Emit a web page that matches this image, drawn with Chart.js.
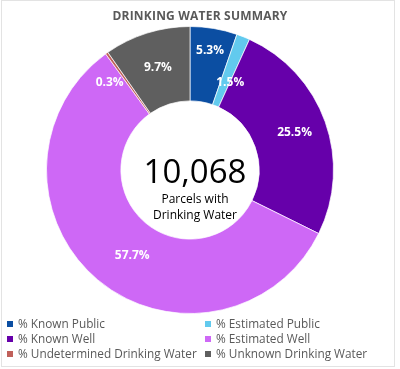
<!DOCTYPE html>
<html>
<head>
<meta charset="utf-8">
<script src="https://cdn.jsdelivr.net/npm/chart.js@4"></script>
<style>
  body { margin: 0; background: #fff; }
  #wrap { position: relative; width: 400px; height: 369px; font-family: "Open Sans", sans-serif; }
  #frame { position: absolute; left: 1px; top: 0; width: 394px; height: 367px; border: 1px solid #e3e3e3; box-sizing: border-box; }
  #title { position: absolute; left: 0; width: 400px; top: 7px; text-align: center; font-weight: bold; font-size: 12px; letter-spacing: 0.2px; color: #595959; }
  #center { position: absolute; left: 125px; width: 140px; top: 151px; text-align: center; color: #000; }
  #center .big { font-size: 33px; line-height: 40px; }
  #center .small { font-size: 12px; line-height: 16px; }
  #legend { position: absolute; left: 7px; top: 316px; width: 390px; }
  .item { position: absolute; font-size: 11.8px; color: #595959; white-space: nowrap; line-height: 15px; }
  .item i { display: inline-block; width: 6px; height: 6px; margin-right: 5px; vertical-align: 1px; }
  canvas { position: absolute; left: 0; top: 0; }
</style>
</head>
<body>
<div id="wrap">
  <canvas id="chart" width="400" height="369"></canvas>
  <div id="frame"></div>
  <div id="title">DRINKING WATER SUMMARY</div>
  <div id="center"><div class="big">10,068</div><div class="small">Parcels with<br>Drinking Water</div></div>
  <div id="legend"></div>
</div>
<script>
const labels = ["% Known Public", "% Estimated Public", "% Known Well", "% Estimated Well", "% Undetermined Drinking Water", "% Unknown Drinking Water"];
const values = [5.3, 1.5, 25.5, 57.7, 0.3, 9.7];
const colors = ["#0B4EA2", "#62CAEE", "#6600AA", "#CE68F6", "#C0605A", "#5F5F5F"];

// label placement: radius in px, angle nudge in degrees
const labelRadius = [121, 96, 111, 103, 119, 107];
const labelNudge = [0, 3, 0, -6, -7, 0];

const pctLabels = {
    id: "pctLabels",
    afterDatasetsDraw(chart) {
        const { ctx } = chart;
        const meta = chart.getDatasetMeta(0);
        ctx.save();
        ctx.fillStyle = "#fff";
        ctx.font = "bold 12px 'Open Sans'";
        ctx.textAlign = "center";
        ctx.textBaseline = "middle";
        meta.data.forEach((arc, i) => {
            const p = arc.getProps(["x", "y", "startAngle", "endAngle"], true);
            const a = (p.startAngle + p.endAngle) / 2 + labelNudge[i] * Math.PI / 180;
            const r = labelRadius[i];
            ctx.fillText(values[i].toFixed(1) + "%", p.x + Math.cos(a) * r, p.y + Math.sin(a) * r);
        });
        ctx.restore();
    }
};

new Chart(document.getElementById("chart"), {
    type: "doughnut",
    data: {
        labels,
        datasets: [{
            data: values,
            backgroundColor: colors,
            borderColor: "rgba(255,255,255,0.7)",
            borderWidth: 1
        }]
    },
    options: {
        responsive: false,
        animation: false,
        radius: 143.5,
        cutout: 72,
        layout: { padding: { left: 40, right: 60, top: 20, bottom: 49 } },
        plugins: {
            legend: { display: false },
            tooltip: { enabled: false }
        }
    },
    plugins: [pctLabels]
});

// legend, two columns
const legend = document.getElementById("legend");
labels.forEach((l, i) => {
    const div = document.createElement("div");
    div.className = "item";
    div.style.left = (i % 2 ? 198 : 0) + "px";
    div.style.top = Math.floor(i / 2) * 15 + "px";
    div.innerHTML = `<i style="background:${colors[i]}"></i>${l}`;
    legend.appendChild(div);
});
</script>
</body>
</html>
